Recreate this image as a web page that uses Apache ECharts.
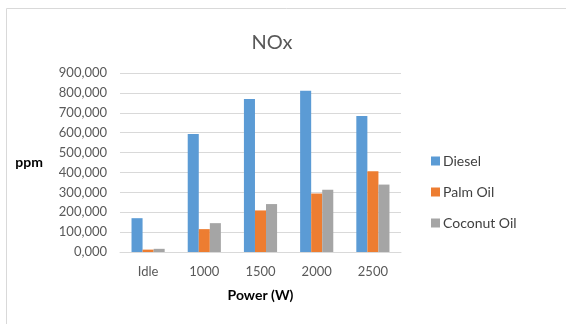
<!DOCTYPE html>
<html><head><meta charset="utf-8">
<script src="https://cdn.jsdelivr.net/npm/echarts@6/dist/echarts.min.js"></script>
<style>html,body{margin:0;padding:0;background:#fff}#c{width:566px;height:324px}</style>
</head><body><div id="c"></div>
<script>
const categories = ['Idle', '1000', '1500', '2000', '2500'];
const diesel = [170000, 593000, 769000, 811000, 684000];
const palmOil = [12000, 115000, 209000, 294000, 406000];
const coconutOil = [16000, 145000, 241000, 313000, 339000];
const yTickLabels = ['0,000','100,000','200,000','300,000','400,000','500,000','600,000','700,000','800,000','900,000'];

const font = 'Lato, "Open Sans", sans-serif';
const chart = echarts.init(document.getElementById('c'));
chart.setOption({
  animation: false,
  textStyle: { fontFamily: font },
  graphic: [{ type: 'rect', shape: { x: 6.5, y: 8.5, width: 600, height: 400 }, style: { fill: 'none', stroke: '#d9d9d9', lineWidth: 1 }, silent: true }],
  title: { text: 'NOx', left: 267, top: 28, textAlign: 'center', textStyle: { fontFamily: font, fontSize: 20, fontWeight: 'normal', color: '#595959' } },
  legend: {
    orient: 'vertical', left: 426, top: 149, itemGap: 17, itemWidth: 9, itemHeight: 9, icon: 'rect',
    textStyle: { fontFamily: font, fontSize: 14, color: '#404040', padding: [0, 0, 0, -2] },
    data: ['Diesel', 'Palm Oil', 'Coconut Oil']
  },
  grid: { left: 120, right: 165, top: 73, bottom: 72 },
  xAxis: {
    type: 'category', data: categories,
    name: 'Power (W)', nameLocation: 'middle', nameGap: 36,
    nameTextStyle: { fontFamily: font, fontSize: 14, fontWeight: 'bold', color: '#000' },
    axisLine: { lineStyle: { color: '#d9d9d9' } }, axisTick: { show: false },
    axisLabel: { fontFamily: font, fontSize: 13, color: '#595959', margin: 13 }
  },
  yAxis: {
    type: 'value', min: 0, max: 900000, interval: 100000,
    name: 'ppm', nameLocation: 'middle', nameGap: 77, nameRotate: 0,
    nameTextStyle: { fontFamily: font, fontSize: 14, fontWeight: 'bold', color: '#000', padding: [6, 0, 0, 0] },
    axisLine: { show: false }, axisTick: { show: false },
    axisLabel: { fontFamily: font, fontSize: 13, color: '#595959', margin: 13, formatter: (v, i) => yTickLabels[i] },
    splitLine: { lineStyle: { color: '#d9d9d9' } }
  },
  series: [
    { name: 'Diesel', type: 'bar', data: diesel, itemStyle: { color: '#5b9bd5' }, barGap: '0%', barCategoryGap: '41%' },
    { name: 'Palm Oil', type: 'bar', data: palmOil, itemStyle: { color: '#ed7d31' } },
    { name: 'Coconut Oil', type: 'bar', data: coconutOil, itemStyle: { color: '#a5a5a5' } }
  ]
});
</script></body></html>
